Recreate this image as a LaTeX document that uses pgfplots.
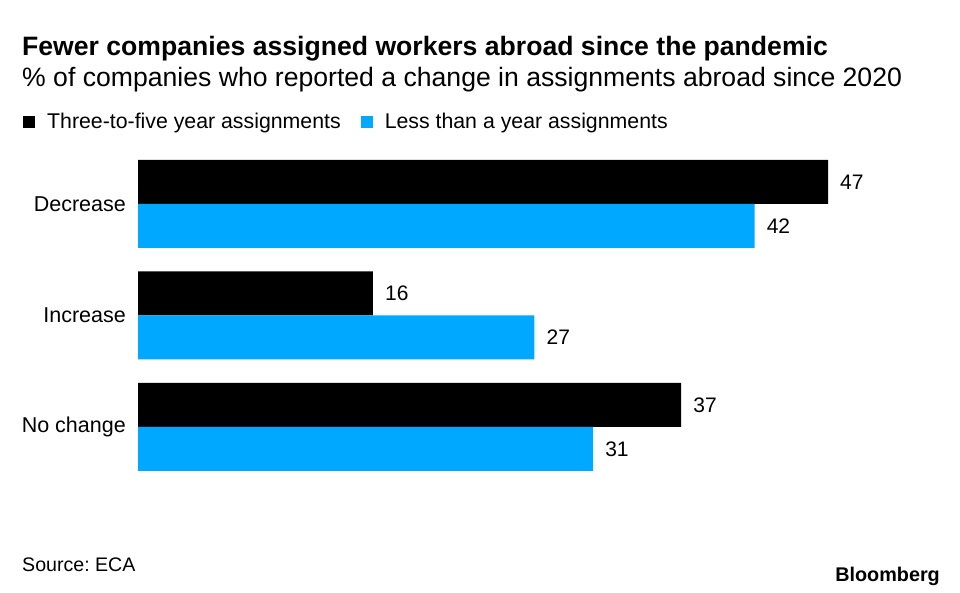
\documentclass[border=0pt]{standalone}
\usepackage{fontspec}
\setmainfont{Liberation Sans}
\usepackage{pgfplots}
\pgfplotsset{compat=1.18}
\definecolor{bblue}{HTML}{00A8FF}
\frenchspacing
\begin{document}
\begin{tikzpicture}
\path[use as bounding box] (0pt,0pt) rectangle (960pt,593pt);
\fill[white] (0pt,0pt) rectangle (960pt,593pt);
\node[anchor=base west, inner sep=0pt, font=\bfseries\fontsize{26.6}{26.6}\selectfont] at (22pt,537pt) {Fewer companies assigned workers abroad since the pandemic};
\node[anchor=base west, inner sep=0pt, font=\fontsize{26.6}{26.6}\selectfont] at (22pt,506pt) {\% of companies who reported a change in assignments abroad since 2020};
\node[anchor=base west, inner sep=0pt, font=\fontsize{19.6}{19.6}\selectfont] at (22pt,21pt) {Source: ECA};
\node[anchor=base east, inner sep=0pt, font=\bfseries\fontsize{19.8}{19.8}\selectfont] at (940pt,11pt) {Bloomberg};
\begin{axis}[
  at={(138pt,110.25pt)}, anchor=south west,
  scale only axis, width=690pt, height=334.5pt,
  xmin=0, xmax=47, ymin=-0.5, ymax=2.5,
  xbar, bar width=44pt,
  axis line style={draw=none}, major tick length=0pt,
  xtick=\empty, ytick={0,1,2}, yticklabels={No change,Increase,Decrease},
  yticklabel style={font=\fontsize{21.5}{21.5}\selectfont, inner sep=0pt, xshift=-12pt},
  clip=false,
  /pgf/number format/assume math mode=true,
  point meta=x,
  nodes near coords,
  nodes near coords style={font=\fontsize{21}{21}\selectfont, anchor=west, inner sep=0pt, xshift=12pt},
  legend style={at={(rel axis cs:-0.1667,1.0785)}, anchor=west, draw=none, fill=none,
    legend columns=2, font=\fontsize{21.3}{21.3}\selectfont, inner sep=0pt,
    nodes={inner sep=0pt},
    /tikz/every odd column/.append style={column sep=12pt},
    /tikz/every even column/.append style={column sep=20pt}},
  legend image code/.code={\fill[#1] (0pt,-6pt) rectangle (12pt,6pt);},
]
\addplot[fill=black, draw=none, bar shift=22pt] coordinates {(37,0) (16,1) (47,2)};
\addplot[fill=bblue, draw=none, bar shift=-22pt] coordinates {(31,0) (27,1) (42,2)};
\legend{Three-to-five year assignments, Less than a year assignments}
\end{axis}
\end{tikzpicture}
\end{document}
